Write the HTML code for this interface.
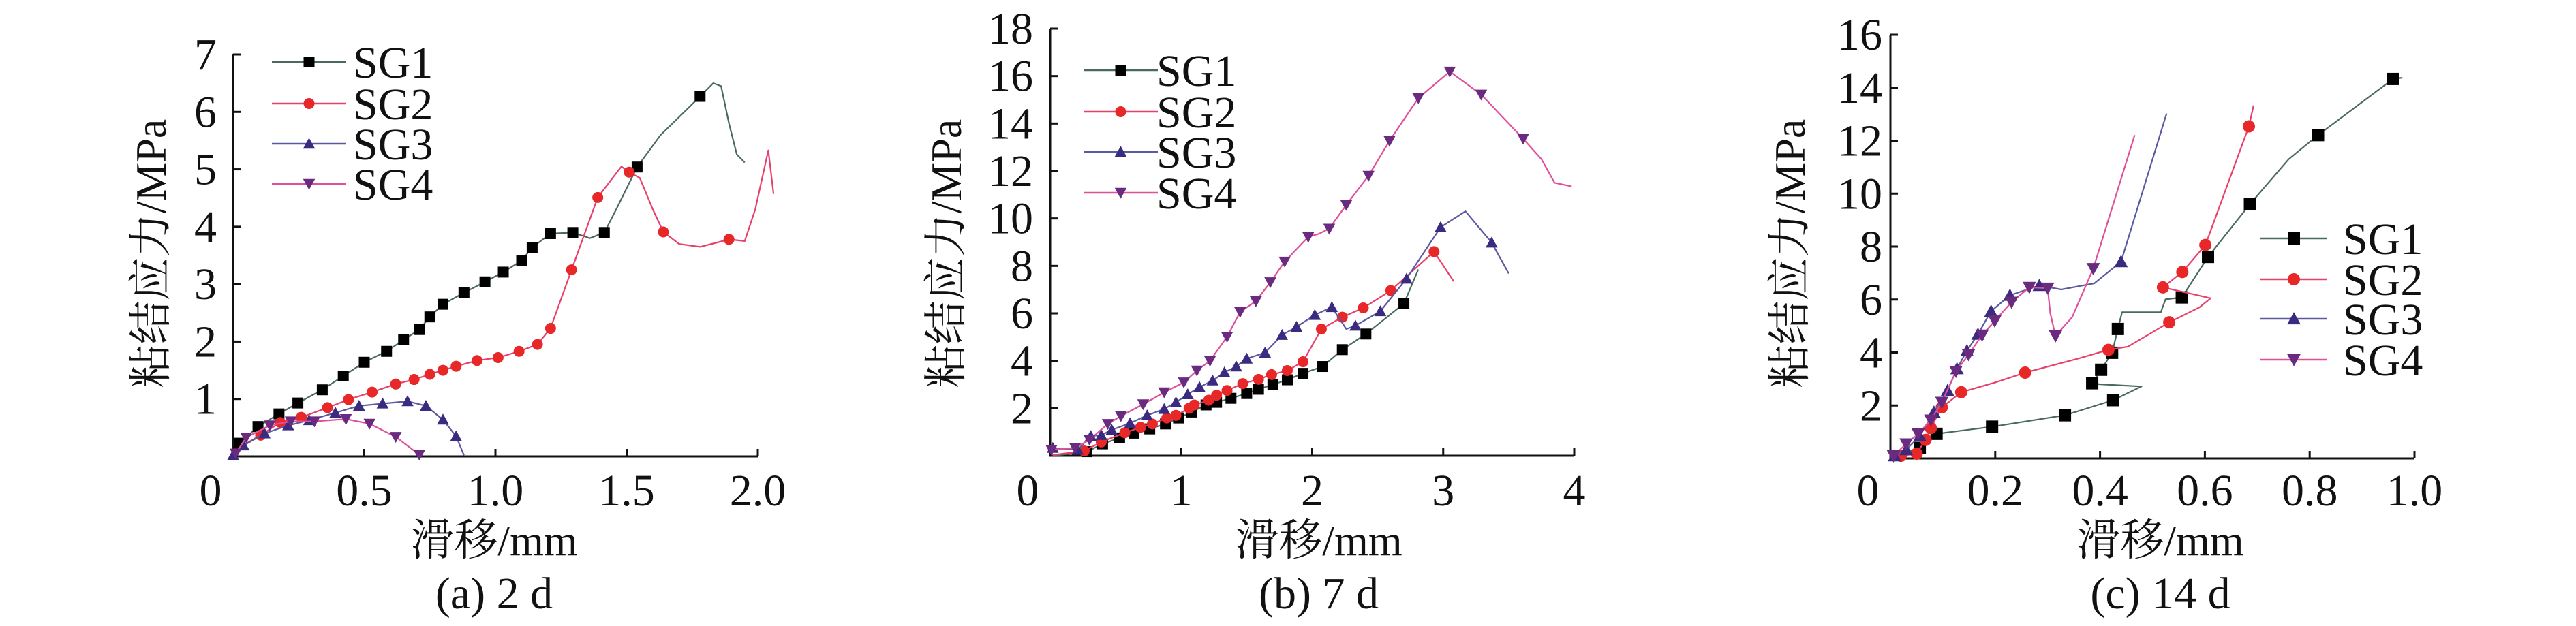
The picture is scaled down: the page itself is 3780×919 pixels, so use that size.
<!DOCTYPE html>
<html><head><meta charset="utf-8"><style>
html,body{margin:0;padding:0;background:#fff;}
svg{display:block;}
text{font-family:"Liberation Serif","Noto Serif CJK SC",serif;fill:#111;}
</style></head><body>
<svg id="chart" width="3780" height="919" viewBox="0 0 3780 919" xmlns="http://www.w3.org/2000/svg"></svg>
<script>
// ---------- data: panel (a) 2 d ----------
const a_sg1_x=[0,0.025,0.095,0.175,0.247,0.34,0.42,0.50,0.585,0.65,0.71,0.75,0.80,0.88,0.96,1.03,1.10,1.14,1.21,1.295,1.36,1.415,1.46,1.54,1.63,1.72,1.78,1.83,1.86,1.89,1.92,1.95];
const a_sg1_y=[0,0.23,0.52,0.74,0.93,1.16,1.40,1.64,1.83,2.03,2.21,2.43,2.65,2.85,3.04,3.21,3.41,3.64,3.88,3.90,3.80,3.90,4.3,5.04,5.6,6.0,6.27,6.5,6.45,5.8,5.26,5.12];
const a_sg1_m=[0,1,1,1,1,1,1,1,1,1,1,1,1,1,1,1,1,1,1,1,0,1,0,1,0,0,1,0,0,0,0,0];
const a_sg2_x=[0,0.025,0.105,0.18,0.26,0.36,0.44,0.53,0.62,0.69,0.75,0.80,0.85,0.93,1.01,1.09,1.16,1.21,1.29,1.39,1.48,1.51,1.55,1.60,1.64,1.70,1.78,1.84,1.89,1.95,1.99,2.04,2.06];
const a_sg2_y=[0,0.16,0.37,0.59,0.68,0.85,0.99,1.12,1.26,1.34,1.43,1.50,1.57,1.67,1.72,1.83,1.95,2.23,3.25,4.51,5.05,4.95,4.85,4.3,3.91,3.70,3.65,3.72,3.78,3.75,4.3,5.33,4.57];
const a_sg2_m=[0,0,1,1,1,1,1,1,1,1,1,1,1,1,1,1,1,1,1,1,0,1,0,0,1,0,0,0,1,0,0,0,0];
const a_sg3_x=[0,0.04,0.12,0.21,0.29,0.39,0.48,0.57,0.665,0.735,0.80,0.85,0.88];
const a_sg3_y=[0.02,0.19,0.40,0.54,0.63,0.76,0.88,0.92,0.96,0.88,0.64,0.35,0.02];
const a_sg3_m=[1,1,1,1,1,1,1,1,1,1,1,1,0];
const a_sg4_x=[0.01,0.05,0.14,0.22,0.31,0.43,0.52,0.62,0.71];
const a_sg4_y=[0.05,0.33,0.54,0.61,0.61,0.65,0.57,0.34,0.03];
const a_sg4_m=[1,1,1,1,1,1,1,1,1];
const a_xticks=[0,0.5,1.0,1.5,2.0];
const a_xlabels=["0","0.5","1.0","1.5","2.0"];
const a_yticks=[1,2,3,4,5,6,7];
const a_ylabels=["1","2","3","4","5","6","7"];
// ---------- data: panel (b) 7 d ----------
const b_sg1_x=[0.02,0.28,0.40,0.53,0.64,0.76,0.88,0.98,1.08,1.19,1.27,1.38,1.50,1.59,1.70,1.81,1.93,2.08,2.23,2.41,2.70,2.81];
const b_sg1_y=[0,0.17,0.5,0.75,0.95,1.13,1.34,1.59,1.84,2.14,2.25,2.42,2.62,2.80,3.0,3.2,3.47,3.76,4.47,5.13,6.41,7.85];
const b_sg1_m=[0,1,1,1,1,1,1,1,1,1,1,1,1,1,1,1,1,1,1,1,1,0];
const b_sg2_x=[0.02,0.26,0.39,0.57,0.69,0.78,0.89,0.96,1.06,1.10,1.21,1.27,1.35,1.47,1.59,1.69,1.81,1.93,2.07,2.23,2.39,2.60,2.93,3.08];
const b_sg2_y=[0.03,0.2,0.58,0.97,1.2,1.34,1.59,1.7,2.0,2.14,2.34,2.55,2.75,3.04,3.22,3.42,3.59,3.96,5.34,5.84,6.23,6.96,8.6,7.35];
const b_sg2_m=[0,1,1,1,1,1,1,1,1,1,1,1,1,1,1,1,1,1,1,1,1,1,1,0];
const b_sg3_x=[0.02,0.21,0.31,0.39,0.47,0.61,0.74,0.87,0.96,1.05,1.14,1.24,1.33,1.42,1.50,1.64,1.77,1.88,2.02,2.15,2.26,2.33,2.52,2.72,2.98,3.17,3.37,3.50];
const b_sg3_y=[0.33,0.25,0.83,0.87,1.09,1.37,1.70,1.97,2.25,2.59,2.89,3.17,3.51,3.76,4.09,4.34,5.09,5.43,5.93,6.26,5.34,5.48,6.09,7.46,9.63,10.3,8.98,7.68];
const b_sg3_m=[1,1,1,1,1,1,1,1,1,1,1,1,1,1,1,1,1,1,1,1,0,1,1,1,1,0,1,0];
const b_sg4_x=[0.01,0.19,0.30,0.44,0.54,0.71,0.87,1.02,1.12,1.22,1.35,1.45,1.57,1.68,1.79,1.97,2.05,2.13,2.26,2.43,2.59,2.81,3.05,3.29,3.61,3.75,3.85,3.98];
const b_sg4_y=[0.25,0.33,0.67,1.34,1.67,2.17,2.67,3.09,3.59,4.0,5.01,6.06,6.51,7.31,8.18,9.22,9.35,9.57,10.57,11.8,13.27,15.07,16.19,15.22,13.36,12.5,11.5,11.35];
const b_sg4_m=[1,1,1,1,1,1,1,1,1,1,1,1,1,1,1,1,0,1,1,1,1,1,1,1,1,0,0,0];
const b_xticks=[0,1,2,3,4];
const b_xlabels=["0","1","2","3","4"];
const b_yticks=[2,4,6,8,10,12,14,16,18];
const b_ylabels=["2","4","6","8","10","12","14","16","18"];
// ---------- data: panel (c) 14 d ----------
const c_sg1_x=[0,0.056,0.088,0.194,0.333,0.425,0.479,0.40,0.385,0.402,0.423,0.434,0.442,0.516,0.525,0.556,0.606,0.686,0.76,0.816,0.959,0.977];
const c_sg1_y=[0.03,0.4,0.93,1.2,1.63,2.2,2.72,2.8,2.84,3.35,3.99,4.89,5.52,5.52,6.01,6.08,7.61,9.6,11.3,12.21,14.33,14.38];
const c_sg1_m=[0,1,1,1,1,1,0,0,1,1,1,1,0,0,0,1,1,1,0,1,1,0];
const c_sg2_x=[0.02,0.05,0.067,0.077,0.098,0.135,0.2,0.257,0.358,0.416,0.453,0.532,0.59,0.611,0.52,0.557,0.601,0.684,0.693];
const c_sg2_y=[0.1,0.18,0.7,1.15,1.93,2.5,2.87,3.24,3.77,4.1,4.22,5.14,5.71,6.05,6.46,7.04,8.06,12.54,13.33];
const c_sg2_m=[1,1,1,1,1,1,0,1,0,1,0,1,0,0,1,1,1,1,0];
const c_sg3_x=[0.008,0.03,0.056,0.083,0.109,0.127,0.146,0.167,0.192,0.228,0.284,0.326,0.389,0.44,0.527];
const c_sg3_y=[0.1,0.33,0.85,1.75,2.57,3.39,4.07,4.69,5.56,6.16,6.53,6.38,6.61,7.43,13.03];
const c_sg3_m=[1,1,1,1,1,1,1,1,1,1,1,0,0,1,0];
const c_sg4_x=[0.006,0.03,0.053,0.077,0.098,0.125,0.149,0.175,0.199,0.231,0.265,0.30,0.305,0.315,0.347,0.387,0.466];
const c_sg4_y=[0.1,0.55,0.93,1.45,2.12,3.29,3.92,4.66,5.19,5.9,6.46,6.43,5.49,4.63,5.34,7.17,12.21];
const c_sg4_m=[1,1,1,1,1,1,1,1,1,1,1,1,0,1,0,1,0];
const c_xticks=[0,0.2,0.4,0.6,0.8,1.0];
const c_xlabels=["0","0.2","0.4","0.6","0.8","1.0"];
const c_yticks=[2,4,6,8,10,12,14,16];
const c_ylabels=["2","4","6","8","10","12","14","16"];
const seriesNames=["SG1","SG2","SG3","SG4"];

const NS="http://www.w3.org/2000/svg";
const svg=document.getElementById('chart');
const lineCol=["#4a6a60","#e8406a","#5a5aa0","#e0509a"];
const mkCol=["#000000","#e82828","#3a2a80","#6a2a80"];
function mk(tag,attrs,parent){const e=document.createElementNS(NS,tag);for(const k in attrs)e.setAttribute(k,attrs[k]);(parent||svg).appendChild(e);return e;}
function marker(g,kind,cx,cy,r,col){
  let e;
  if(kind===0){e=mk('rect',{x:cx-r,y:cy-r,width:2*r,height:2*r,fill:col},g);}
  else if(kind===1){e=mk('circle',{cx:cx,cy:cy,r:r,fill:col},g);}
  else if(kind===2){e=mk('polygon',{points:`${cx},${cy-r*1.1} ${cx-r*1.1},${cy+r*0.9} ${cx+r*1.1},${cy+r*0.9}`,fill:col},g);}
  else {e=mk('polygon',{points:`${cx},${cy+r*1.1} ${cx-r*1.1},${cy-r*0.9} ${cx+r*1.1},${cy-r*0.9}`,fill:col},g);}
  
  
}
function panel(p){
  const g=mk('g',{});
  
  
  const X=v=>p.x0+(v-p.xmin)/(p.xmax-p.xmin)*(p.x1-p.x0);
  const Y=v=>p.y0-(v/p.ymax)*(p.y0-p.y1);
  // axes
  const ax=mk('path',{d:`M${p.x0},${p.y1} L${p.x0},${p.y0} L${p.x1},${p.y0}`,stroke:'#111','stroke-width':3,fill:'none'},g);
   
  p.xt.forEach((v,i)=>{
    const x=X(v);
    if(i>0){const t=mk('line',{x1:x,y1:p.y0,x2:x,y2:p.y0-11,stroke:'#111','stroke-width':3},g);}
    const tx=mk('text',{x:i===0?x-33:x,y:742,'font-size':66,'text-anchor':'middle'},g);
    tx.textContent=p.xl[i];
    
    
  });
  p.yt.forEach((v,i)=>{
    const y=Y(v);
    const t=mk('line',{x1:p.x0,y1:y,x2:p.x0+11,y2:y,stroke:'#111','stroke-width':3},g);
    
    const tx=mk('text',{x:p.ylx,y:y+22,'font-size':66,'text-anchor':'end'},g);
    tx.textContent=p.yl[i];
    
    
  });
  // series
  p.s.forEach((s,k)=>{
    const sg=mk('g',{},g);
    
    
    const d=s.x.map((v,i)=>(i?'L':'M')+X(v).toFixed(1)+','+Y(s.y[i]).toFixed(1)).join(' ');
    const l=mk('path',{d:d,stroke:lineCol[k],'stroke-width':2.2,fill:'none','stroke-linejoin':'round'},sg);
    
    
    s.x.forEach((v,i)=>{if(s.m[i])marker(sg,k,X(v),Y(s.y[i]),p.mr,mkCol[k]);});
  });
  // legend
  const lg=mk('g',{},g);
  
  
  seriesNames.forEach((n,k)=>{
    const y=p.lgy[k];
    const ln=mk('line',{x1:p.lgx0,y1:y,x2:p.lgx1,y2:y,stroke:lineCol[k],'stroke-width':2.5},lg);
    
    marker(lg,k,(p.lgx0+p.lgx1)/2+p.lgmo,y,p.mr,mkCol[k]);
    const t=mk('text',{x:p.lgtx,y:y+23,'font-size':66},lg);
    t.textContent=n;
    
    
  });
  // titles
  const xt=mk('text',{x:p.xtc,y:815,'font-size':64,'text-anchor':'middle'},g);
  xt.textContent='滑移/mm';
  const yt=mk('text',{x:0,y:0,'font-size':64,'text-anchor':'middle',transform:`translate(${p.ytx},372) rotate(-90)`},g);
  yt.textContent='粘结应力/MPa';
  const cp=mk('text',{x:p.xtc,y:893,'font-size':66,'text-anchor':'middle'},g);
  cp.textContent=p.cap;
}
panel({id:'a',x0:342,x1:1112,xmin:0,xmax:2,y0:670,y1:80,ymax:7,ylx:318,mr:8,
  xt:a_xticks,xl:a_xlabels,yt:a_yticks,yl:a_ylabels,
  s:[{x:a_sg1_x,y:a_sg1_y,m:a_sg1_m},{x:a_sg2_x,y:a_sg2_y,m:a_sg2_m},{x:a_sg3_x,y:a_sg3_y,m:a_sg3_m},{x:a_sg4_x,y:a_sg4_y,m:a_sg4_m}],
  lgx0:399,lgx1:508,lgmo:0,lgtx:518,lgy:[91,152,211,270],xtc:725,ytx:243,cap:'(a) 2 d'});
panel({id:'b',x0:1541,x1:2310,xmin:0,xmax:4,y0:669,y1:42,ymax:18,ylx:1516,mr:8,
  xt:b_xticks,xl:b_xlabels,yt:b_yticks,yl:b_ylabels,
  s:[{x:b_sg1_x,y:b_sg1_y,m:b_sg1_m},{x:b_sg2_x,y:b_sg2_y,m:b_sg2_m},{x:b_sg3_x,y:b_sg3_y,m:b_sg3_m},{x:b_sg4_x,y:b_sg4_y,m:b_sg4_m}],
  lgx0:1590,lgx1:1699,lgmo:0,lgtx:1697,lgy:[103,164,223,283],xtc:1935,ytx:1410,cap:'(b) 7 d'});
panel({id:'c',x0:2774,x1:3543,xmin:0,xmax:1,y0:673,y1:51,ymax:16,ylx:2762,mr:9,
  xt:c_xticks,xl:c_xlabels,yt:c_yticks,yl:c_ylabels,
  s:[{x:c_sg1_x,y:c_sg1_y,m:c_sg1_m},{x:c_sg2_x,y:c_sg2_y,m:c_sg2_m},{x:c_sg3_x,y:c_sg3_y,m:c_sg3_m},{x:c_sg4_x,y:c_sg4_y,m:c_sg4_m}],
  lgx0:3317,lgx1:3415,lgmo:0,lgtx:3438,lgy:[350,410,468,528],xtc:3170,ytx:2648,cap:'(c) 14 d'});
</script>
</body></html>
